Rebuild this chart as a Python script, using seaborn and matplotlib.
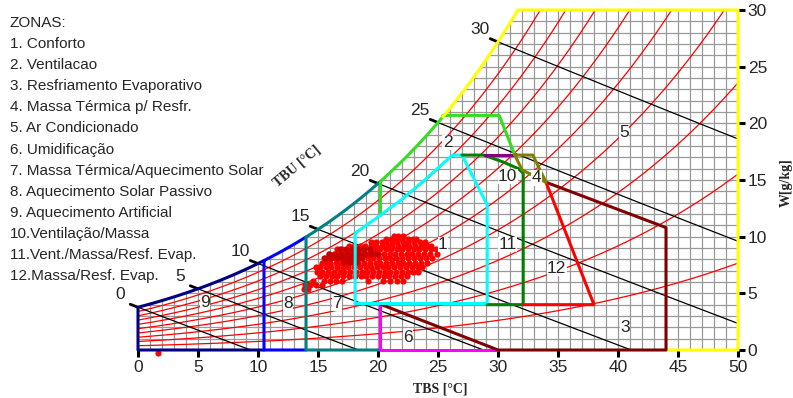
import numpy as np
import pandas as pd
import matplotlib
matplotlib.use("Agg")
import matplotlib.pyplot as plt
import seaborn as sns

# ---------- data ----------
rh_levels = [0.1, 0.2, 0.3, 0.4, 0.5, 0.6, 0.7, 0.8, 0.9]
twb_levels = [0, 5, 10, 15, 20, 25, 30]

legend_lines = ["ZONAS:", "1. Conforto", "2. Ventilacao", "3. Resfriamento Evaporativo",
                "4. Massa Térmica p/ Resfr.", "5. Ar Condicionado", "6. Umidificação",
                "7. Massa Térmica/Aquecimento Solar", "8. Aquecimento Solar Passivo",
                "9. Aquecimento Artificial", "10.Ventilação/Massa",
                "11.Vent./Massa/Resf. Evap.", "12.Massa/Resf. Evap."]

zone_names = ["1", "2", "3", "4", "5", "6", "7", "8", "9", "10", "11", "12"]
zone_tbs = [25.4, 25.8, 40.6, 33.2, 40.5, 22.5, 16.6, 12.5, 5.6, 30.8, 30.8, 34.9]
zone_w = [9.3, 18.3, 2.0, 15.2, 19.2, 1.1, 4.1, 4.1, 4.2, 15.3, 9.3, 7.2]

# zone outlines (TBS, W)
cyan_t = [18.1, 18.1, 20.2, 22.0, 24.0, 26.2, 27.0, 29.1, 29.1, 18.1]
cyan_w = [4.1, 10.3, 11.9, 13.3, 15.1, 17.2, 17.2, 12.8, 4.1, 4.1]
dgreen_t = [27.0, 28.8, 30.4, 31.7, 32.1, 32.1, 29.1]
dgreen_w = [17.2, 17.2, 16.6, 16.0, 15.6, 4.0, 4.0]
purple_t = [28.9, 31.4]
purple_w = [17.2, 17.2]
olive_t = [31.4, 32.9, 34.0, 32.0, 31.4]
olive_w = [17.2, 17.2, 14.8, 15.9, 17.2]
red_t = [32.1, 38.0, 34.0]
red_w = [4.0, 4.0, 14.8]
maroon_t = [20.3, 30.0, 44.0, 44.0, 34.0]
maroon_w = [4.0, 0.0, 0.0, 10.8, 14.8]
magenta_t = [20.2, 20.2, 30.0]
magenta_w = [4.0, 0.0, 0.0]
green_t = [25.4, 30.1, 31.4]
green_w = [20.7, 20.7, 17.2]
green_low_t = [20.2, 20.2]
green_low_w = [11.9, 14.8]

# climate records (TBS, W) - main red cloud
cloud_rows = {
    10.1: [21.3, 21.7, 22.1],
    9.8: [20.7, 21.1, 21.5, 22.0, 22.5, 22.9, 23.2],
    9.5: [19.4, 19.8, 20.3, 20.7, 21.2, 21.6, 22.1, 22.5, 23.0, 23.5, 23.9],
    9.2: [17.6, 18.0, 18.5, 18.9, 19.4, 19.8, 20.3, 20.8, 21.2, 21.7, 22.2, 22.6, 23.1, 23.6, 24.1, 24.4],
    8.9: [16.6, 17.0, 17.5, 17.9, 18.4, 18.8, 19.3, 19.8, 20.2, 20.7, 21.1, 21.6, 22.0, 22.5, 23.0, 23.4, 23.9, 24.4, 24.8],
    8.5: [15.9, 16.3, 16.8, 17.2, 17.7, 18.1, 18.6, 19.1, 19.5, 20.0, 20.5, 21.0, 21.4, 21.9, 22.4, 22.8, 23.3, 23.8, 24.3, 24.9],
    8.1: [15.5, 15.9, 16.4, 16.8, 17.3, 17.8, 18.2, 18.7, 19.2, 19.6, 20.1, 20.6, 21.0, 21.5, 22.0, 22.5, 23.0, 23.5, 24.0, 24.5],
    7.7: [15.3, 15.6, 16.0, 16.5, 16.9, 17.4, 17.9, 18.3, 18.8, 19.3, 19.8, 20.2, 20.7, 21.2, 21.7, 22.1, 22.6, 23.1, 23.6, 24.1],
    7.3: [14.8, 15.2, 15.7, 16.1, 16.6, 17.1, 17.5, 18.0, 18.5, 19.0, 19.4, 19.9, 20.4, 20.8, 21.3, 21.8, 22.3, 22.8, 23.3, 23.7],
    6.9: [14.9, 15.3, 15.8, 16.3, 16.8, 17.2, 17.7, 18.2, 18.7, 19.1, 19.6, 20.1, 20.6, 21.0, 21.5, 22.0, 22.5, 22.9, 23.3],
    6.5: [15.2, 15.7, 16.2, 16.6, 17.1, 17.6, 18.1, 18.6, 19.0, 19.5, 20.0, 20.5, 20.9, 21.4, 21.9, 22.4],
    6.1: [14.6, 15.5, 16.0, 16.5, 17.0, 19.2, 20.4, 21.0, 21.6, 22.1],
    5.7: [13.9, 14.3, 14.8, 15.3],
    5.4: [13.8, 14.2],
    -0.25: [1.7],
}
# darker core of the cloud
core_rows = {
    8.9: [16.8, 17.3, 17.8, 18.3, 18.8, 19.3],
    8.5: [15.9, 16.4, 16.9, 17.4, 17.9, 18.4, 18.9, 19.4, 19.9],
    8.1: [15.6, 16.1, 16.6, 17.1, 17.6, 18.1, 18.6],
    7.8: [17.2, 17.7, 18.2],
}

# ---------- psychrometrics ----------
P_ATM = 101.325


def w_rh(t, rh):
    pws = 0.61078 * np.exp(17.27 * t / (t + 237.3))
    pw = rh * pws
    return 622 * pw / (P_ATM - pw)


def t_dew(w):
    pw = w * P_ATM / (622 + w)
    a = np.log(pw / 0.61078)
    return 237.3 * a / (17.27 - a)


def w_wb(t, twb):
    ws = w_rh(twb, 1.0) / 1000
    return 1000 * ((2501 - 2.326 * twb) * ws - 1.006 * (t - twb)) / (2501 + 1.86 * t - 4.186 * twb)


def sat_curve(t0, t1):
    t = np.linspace(t0, t1, 60)
    return t, w_rh(t, 1.0)


sns.set_style("white")
plt.rcParams['font.family'] = ['Liberation Sans', 'DejaVu Sans']

W_PX, H_PX = 793, 398
fig = plt.figure(figsize=(W_PX / 100, H_PX / 100), dpi=100)
ax = fig.add_axes([138 / W_PX, 48 / H_PX, 600 / W_PX, 340 / H_PX])
ax.set_xlim(0, 50)
ax.set_ylim(0, 30)

# grid under the saturation curve
for t in range(1, 50):
    ax.plot([t, t], [0, min(w_rh(t, 1.0), 30)], color="#999999", lw=0.9, zorder=1)
for w in range(1, 30):
    ax.plot([t_dew(w), 50], [w, w], color="#999999", lw=0.9, zorder=1)

# relative humidity curves
t_line = np.linspace(0, 50, 400)
rh_df = pd.concat([pd.DataFrame({"TBS": t_line, "W": w_rh(t_line, r), "UR": r}) for r in rh_levels])
rh_df = rh_df[rh_df["W"] <= 30.2]
sns.lineplot(data=rh_df, x="TBS", y="W", hue="UR", palette=["#ff0000"] * len(rh_levels),
             lw=0.9, legend=False, ax=ax, zorder=2, sort=False, estimator=None)

# wet bulb lines, ticks and labels
for twb in twb_levels:
    t = np.linspace(twb, 50, 300)
    w = w_wb(t, twb)
    keep = w >= 0
    ax.plot(t[keep], w[keep], color="black", lw=0.9, zorder=3)
    tt = np.linspace(twb - 0.65, twb, 5)
    ax.plot(tt, w_wb(tt, twb), color="black", lw=2.0, zorder=3, clip_on=False)
    ax.text(twb - 1.5, w_rh(twb, 1.0) + 1.1, str(twb), fontsize=12.5,
            ha="center", va="center", zorder=6)

# climate records
cloud = pd.DataFrame([(t, w) for w, ts in cloud_rows.items() for t in ts], columns=["TBS", "W"])
core = pd.DataFrame([(t, w) for w, ts in core_rows.items() for t in ts], columns=["TBS", "W"])
sns.scatterplot(data=cloud, x="TBS", y="W", color="#ff0000", s=20, linewidth=0,
                ax=ax, zorder=4, clip_on=False)
sns.scatterplot(data=core, x="TBS", y="W", color="#c80000", s=20, linewidth=0,
                ax=ax, zorder=4)

# zone outlines
LW = 2.2
ts, ws = sat_curve(0, 10.5)
ax.plot(np.r_[10.5, 0, 0, ts], np.r_[0, 0, ws[0], ws], color="#000080", lw=LW, zorder=5, clip_on=False)
ts, ws = sat_curve(10.5, 14)
ax.plot(np.r_[14, 10.5, 10.5, ts], np.r_[0, 0, ws[0], ws], color="#0000ff", lw=LW, zorder=5, clip_on=False)
ts, ws = sat_curve(14, 20.2)
ax.plot(np.r_[20.2, 14, 14, ts], np.r_[0, 0, ws[0], ws], color="#008080", lw=LW, zorder=5, clip_on=False)
ts, ws = sat_curve(20.2, 25.4)
ax.plot(ts, ws, color="#33dd22", lw=LW, zorder=5)
ax.plot(green_low_t, green_low_w, color="#33dd22", lw=LW, zorder=5)
ax.plot(green_t, green_w, color="#33dd22", lw=LW, zorder=5)
ts, ws = sat_curve(25.4, t_dew(30))
ax.plot(np.r_[ts, 50, 50, 44], np.r_[ws, 30, 0, 0], color="#ffff00", lw=LW, zorder=5, clip_on=False)
ax.plot(magenta_t, magenta_w, color="#ff00ff", lw=LW, zorder=5, clip_on=False)
ax.plot(maroon_t, maroon_w, color="#800000", lw=LW, zorder=5, clip_on=False)
ax.plot(cyan_t, cyan_w, color="#00ffff", lw=LW, zorder=5)
ax.plot(dgreen_t, dgreen_w, color="#008000", lw=LW, zorder=5)
ax.plot(red_t, red_w, color="#ff0000", lw=LW, zorder=5)
ax.plot(purple_t, purple_w, color="#800080", lw=LW, zorder=5)
ax.plot(olive_t, olive_w, color="#808000", lw=LW, zorder=5)

# zone numbers
for name, t, w in zip(zone_names, zone_tbs, zone_w):
    ax.text(t, w, name, fontsize=12.5, ha="center", va="center", zorder=6,
            bbox=dict(facecolor="white", edgecolor="none", pad=0.3))

# axes
for side in ["left", "right", "top", "bottom"]:
    ax.spines[side].set_visible(False)
ax.set_xticks(range(0, 51, 5))
ax.set_yticks(range(0, 31, 5))
ax.yaxis.tick_right()
ax.tick_params(direction="out", length=5, width=2.2, color="black", labelsize=12.5, pad=2)
ax.tick_params(axis="x", bottom=True)
ax.tick_params(axis="y", right=True, left=False)
ax.set_xlabel("")
ax.set_ylabel("")

fig.text(440 / W_PX, 1 - 389 / H_PX, "TBS [°C]", family="Liberation Serif", weight="bold",
         fontsize=10, ha="center", va="center")
fig.text(786 / W_PX, 1 - 183 / H_PX, "W[g/kg]", family="Liberation Serif", weight="bold",
         fontsize=10, ha="center", va="center", rotation=90)
fig.text(297 / W_PX, 1 - 166 / H_PX, "TBU [°C]", family="Liberation Serif", weight="bold",
         fontsize=10, ha="center", va="center", rotation=40)

# zone legend
for i, line in enumerate(legend_lines):
    fig.text(10 / W_PX, 1 - (23 + i * 21.1) / H_PX, line, fontsize=11, ha="left", va="center")

fig.savefig("out.png", dpi=100)
